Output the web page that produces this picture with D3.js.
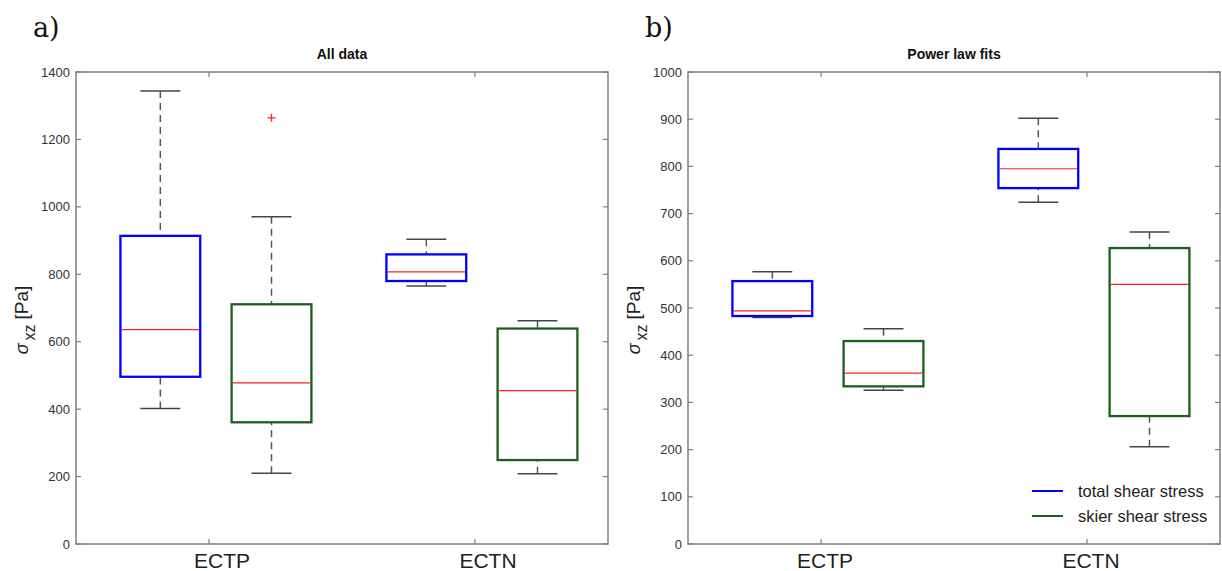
<!DOCTYPE html>
<html>
<head>
<meta charset="utf-8">
<script src="https://cdn.jsdelivr.net/npm/d3@7"></script>
<style>
  body { margin: 0; background: #fff; }
  svg { display: block; }
  .tick-label { font-family: Arial, "Liberation Sans", sans-serif; font-size: 13px; fill: #333; }
</style>
</head>
<body>
<div id="chart"></div>
<script>
// categories and legend entries
const categories = ["ECTP", "ECTN"];
const seriesNames = ["total shear stress", "skier shear stress"];

// box stats per category: [lower whisker, q1, median, q3, upper whisker]
const allTotal = [[402, 496, 636, 914, 1344], [765, 780, 807, 859, 904]];
const allSkier = [[210, 361, 478, 711, 971], [208, 249, 455, 639, 662]];
const allOutliers = [{ cat: "ECTP", series: 1, value: 1264 }];

const fitTotal = [[480, 483, 494, 557, 577], [724, 754, 795, 837, 902]];
const fitSkier = [[326, 334, 362, 430, 456], [206, 271, 550, 627, 661]];
const fitOutliers = [];

const ticksA = [0, 200, 400, 600, 800, 1000, 1200, 1400];
const ticksB = [0, 100, 200, 300, 400, 500, 600, 700, 800, 900, 1000];

const colors = ["#0000ff", "#1d5e1d"];
const offsets = [-0.183, 0.235]; // box shift from category tick, in category units
const boxW = 0.3;

const svg = d3.select("#chart").append("svg")
  .attr("width", 1222)
  .attr("height", 571);

function drawPanel(opt) {
  const { left, right, top, bottom, yMax, ticks, series, outliers, title, letter, labelDx } = opt;

  const x = d3.scaleLinear().domain([0.5, 2.5]).range([left, right]);
  const y = d3.scaleLinear().domain([0, yMax]).range([bottom, top]);
  const xc = c => x(categories.indexOf(c) + 1);

  const g = svg.append("g");

  // panel letter
  g.append("text")
    .attr("x", left - 43).attr("y", 37)
    .style("font-family", "'DejaVu Serif', 'Liberation Serif', serif")
    .style("font-size", "27px")
    .style("fill", "#111")
    .text(letter);

  // title
  g.append("text")
    .attr("x", (left + right) / 2).attr("y", 59)
    .attr("text-anchor", "middle")
    .style("font-family", "Arial, 'Liberation Sans', sans-serif")
    .style("font-size", "14px")
    .style("font-weight", "bold")
    .style("fill", "#111")
    .text(title);

  // frame
  g.append("rect")
    .attr("x", left).attr("y", top)
    .attr("width", right - left).attr("height", bottom - top)
    .attr("fill", "none")
    .attr("stroke", "#808080")
    .attr("stroke-width", 1.5);

  // y ticks (inward on both sides) + labels
  const yTick = g.append("g");
  ticks.forEach(t => {
    yTick.append("line")
      .attr("x1", left).attr("x2", left + 5)
      .attr("y1", y(t)).attr("y2", y(t))
      .attr("stroke", "#808080").attr("stroke-width", 1.2);
    yTick.append("line")
      .attr("x1", right).attr("x2", right - 5)
      .attr("y1", y(t)).attr("y2", y(t))
      .attr("stroke", "#808080").attr("stroke-width", 1.2);
    yTick.append("text")
      .attr("class", "tick-label")
      .attr("x", left - 6).attr("y", y(t))
      .attr("dy", "0.35em")
      .attr("text-anchor", "end")
      .text(t);
  });

  // x ticks (inward top & bottom) + labels
  categories.forEach(c => {
    g.append("line")
      .attr("x1", xc(c)).attr("x2", xc(c))
      .attr("y1", top).attr("y2", top + 5)
      .attr("stroke", "#808080").attr("stroke-width", 1.2);
    g.append("line")
      .attr("x1", xc(c)).attr("x2", xc(c))
      .attr("y1", bottom).attr("y2", bottom - 5)
      .attr("stroke", "#808080").attr("stroke-width", 1.2);
    g.append("text")
      .attr("x", xc(c) + labelDx).attr("y", 568)
      .attr("text-anchor", "middle")
      .style("font-family", "Arial, 'Liberation Sans', sans-serif")
      .style("font-size", "21px")
      .style("fill", "#222")
      .text(c);
  });

  // y axis label
  const yl = g.append("text")
    .attr("transform", `translate(${left - 48},${(top + bottom) / 2 + 12}) rotate(-90)`)
    .attr("text-anchor", "middle")
    .style("font-family", "Arial, 'Liberation Sans', sans-serif")
    .style("font-size", "19px")
    .style("fill", "#222");
  yl.append("tspan").style("font-style", "italic").style("font-size", "18px").text("σ");
  yl.append("tspan").attr("dx", 3).attr("dy", 7).style("font-size", "16px").text("xz");
  yl.append("tspan").attr("dx", 5).attr("dy", -7).text("[Pa]");

  // boxes
  series.forEach((stats, si) => {
    stats.forEach((s, ci) => {
      const [lo, q1, med, q3, hi] = s;
      const cx = x(ci + 1 + offsets[si]);
      const x0 = x(ci + 1 + offsets[si] - boxW / 2);
      const x1 = x(ci + 1 + offsets[si] + boxW / 2);
      const capHalf = (x1 - x0) / 4;
      const bg = g.append("g");

      // whiskers
      [[hi, q3], [lo, q1]].forEach(([a, b]) => {
        bg.append("line")
          .attr("x1", cx).attr("x2", cx)
          .attr("y1", y(a)).attr("y2", y(b))
          .attr("stroke", "#555").attr("stroke-width", 1.5)
          .attr("stroke-dasharray", "7,5");
        bg.append("line")
          .attr("x1", cx - capHalf).attr("x2", cx + capHalf)
          .attr("y1", y(a)).attr("y2", y(a))
          .attr("stroke", "#444").attr("stroke-width", 1.5);
      });

      bg.append("rect")
        .attr("x", x0).attr("y", y(q3))
        .attr("width", x1 - x0).attr("height", y(q1) - y(q3))
        .attr("fill", "#fff")
        .attr("stroke", colors[si])
        .attr("stroke-width", 2.3);

      bg.append("line")
        .attr("x1", x0 + 1).attr("x2", x1 - 1)
        .attr("y1", y(med)).attr("y2", y(med))
        .attr("stroke", "#ff2020").attr("stroke-width", 1.2);
    });
  });

  // outliers
  outliers.forEach(o => {
    const px = x(categories.indexOf(o.cat) + 1 + offsets[o.series]);
    const py = y(o.value);
    g.append("path")
      .attr("d", `M${px - 4},${py}H${px + 4}M${px},${py - 4}V${py + 4}`)
      .attr("stroke", "#ff2020").attr("stroke-width", 1.3);
  });

  return { x, y };
}

drawPanel({
  left: 76, right: 608, top: 72, bottom: 544, yMax: 1400, ticks: ticksA,
  series: [allTotal, allSkier], outliers: allOutliers,
  title: "All data", letter: "a)", labelDx: 13
});

drawPanel({
  left: 688, right: 1220, top: 72, bottom: 544, yMax: 1000, ticks: ticksB,
  series: [fitTotal, fitSkier], outliers: fitOutliers,
  title: "Power law fits", letter: "b)", labelDx: 4
});

// legend (panel b)
const legend = svg.append("g").attr("transform", "translate(1032,491)");
seriesNames.forEach((name, i) => {
  legend.append("line")
    .attr("x1", 0).attr("x2", 31)
    .attr("y1", i * 25).attr("y2", i * 25)
    .attr("stroke", colors[i]).attr("stroke-width", 2);
  legend.append("text")
    .attr("x", 46).attr("y", i * 25)
    .attr("dy", "0.35em")
    .style("font-family", "Arial, 'Liberation Sans', sans-serif")
    .style("font-size", "16.5px")
    .style("fill", "#222")
    .text(name);
});
</script>
</body>
</html>
